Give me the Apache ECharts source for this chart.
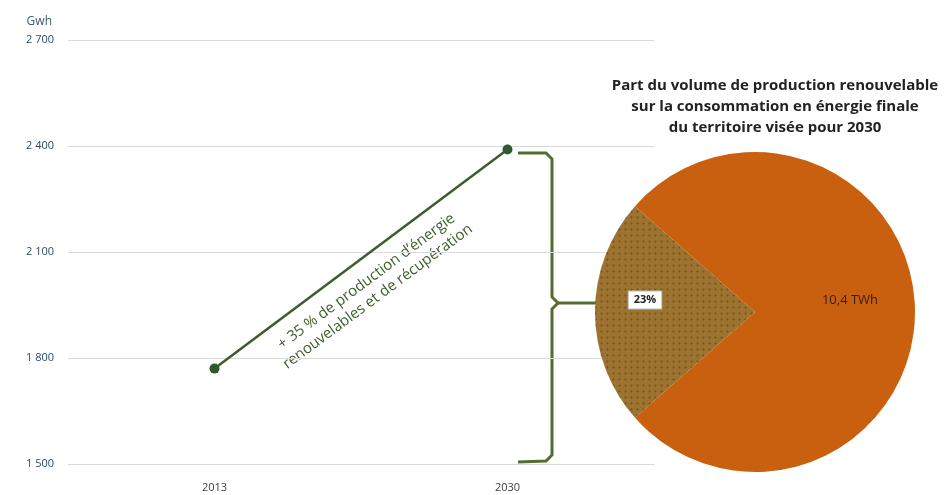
<!DOCTYPE html>
<html>
<head>
<meta charset="utf-8">
<script src="https://cdn.jsdelivr.net/npm/echarts@6/dist/echarts.min.js"></script>
<style>
  html, body { margin: 0; padding: 0; background: #fff; }
</style>
</head>
<body>
<div id="myChart" style="width:948px;height:495px"></div>
<script>
// data
var years = ['2013', '2030']
var production = [1770, 2390]
var yTicks = [1500, 1800, 2100, 2400, 2700]
var pieNames = ['renouvelable', 'reste']
var pieValues = [23, 77]
var pieLabels = ['23%', '10,4 TWh']

var green = '#3b5e2b'
var braceColor = '#566b2e'

function thousands (v) {
  return String(v).replace(/\B(?=(\d{3})+(?!\d))/g, ' ')
}

var myChart = echarts.init(document.getElementById('myChart'))

var braceStyle = { fill: null, stroke: braceColor, lineWidth: 3 }

var options = {
  animation: false,
  textStyle: { fontFamily: 'Open Sans' },
  title: {
    text: 'Part du volume de production renouvelable\nsur la consommation en énergie finale\ndu territoire visée pour 2030',
    left: 770,
    top: 70,
    textAlign: 'center',
    textStyle: {
      fontFamily: 'Open Sans',
      fontSize: 15,
      fontWeight: 'bold',
      color: '#222',
      lineHeight: 21
    }
  },
  grid: { left: 68, right: 294, top: 40, bottom: 31 },
  xAxis: {
    type: 'category',
    data: years,
    boundaryGap: true,
    axisLine: { lineStyle: { color: '#d9d9d9' } },
    axisTick: { lineStyle: { color: '#e6e6e6' } },
    axisLabel: { color: '#404040', fontSize: 11, margin: 18 }
  },
  yAxis: {
    type: 'value',
    min: 1500,
    max: 2700,
    interval: 300,
    name: 'Gwh',
    nameLocation: 'end',
    nameGap: 12,
    nameTextStyle: { color: '#3c5a78', fontSize: 12, align: 'right', padding: [0, 16, 0, 0] },
    axisLine: { show: false },
    axisTick: { show: false },
    splitLine: { lineStyle: { color: '#d9d9d9' } },
    axisLabel: {
      color: '#2e4a6a',
      fontSize: 11,
      margin: 14,
      formatter: function (v) { return yTicks.indexOf(v) >= 0 ? thousands(v) : '' }
    }
  },
  series: [{
    name: 'production',
    type: 'line',
    data: production,
    symbol: 'circle',
    symbolSize: 10,
    lineStyle: { color: green, width: 2.5 },
    itemStyle: { color: '#2f5a2f' },
    silent: true
  }, {
    name: 'part',
    type: 'pie',
    center: [755, 312],
    radius: 160,
    startAngle: 180 + 23 * 1.8,
    silent: true,
    labelLine: { show: false },
    data: [{
      name: pieNames[0],
      value: pieValues[0],
      itemStyle: {
        color: '#9c7330',
        decal: {
          symbol: 'circle',
          symbolSize: 0.7,
          dashArrayX: 3,
          dashArrayY: 3,
          color: 'rgba(80,55,15,0.55)'
        }
      },
      label: {
        show: true,
        position: 'inside',
        offset: [-27, -12],
        formatter: pieLabels[0],
        color: '#222',
        fontSize: 11,
        fontWeight: 'bold',
        backgroundColor: '#fff',
        borderColor: '#bbb',
        borderWidth: 1,
        padding: [3, 5]
      }
    }, {
      name: pieNames[1],
      value: pieValues[1],
      itemStyle: { color: '#c8600f' },
      label: {
        show: true,
        position: 'inside',
        offset: [12, -12],
        formatter: pieLabels[1],
        color: '#3a1d05',
        fontSize: 13
      }
    }]
  }],
  graphic: [{
    // curly brace linking the 2030 value to the pie
    type: 'polyline',
    silent: true,
    shape: { points: [[518, 153], [546, 153], [552, 159], [552, 297], [558, 303]] },
    style: braceStyle
  }, {
    type: 'polyline',
    silent: true,
    shape: { points: [[558, 303], [552, 309], [552, 455], [546, 461], [518, 462]] },
    style: braceStyle
  }, {
    type: 'line',
    silent: true,
    shape: { x1: 556, y1: 303, x2: 598, y2: 303 },
    style: braceStyle
  }, {
    type: 'text',
    silent: true,
    x: 372,
    y: 289,
    rotation: Math.atan2(218, 293),
    style: {
      text: '+ 35 % de production d\u2019énergie\nrenouvelables et de récupération',
      fill: green,
      font: '15px "Open Sans"',
      align: 'center',
      verticalAlign: 'middle',
      lineHeight: 19
    }
  }]
}

myChart.setOption(options)
</script>
</body>
</html>
